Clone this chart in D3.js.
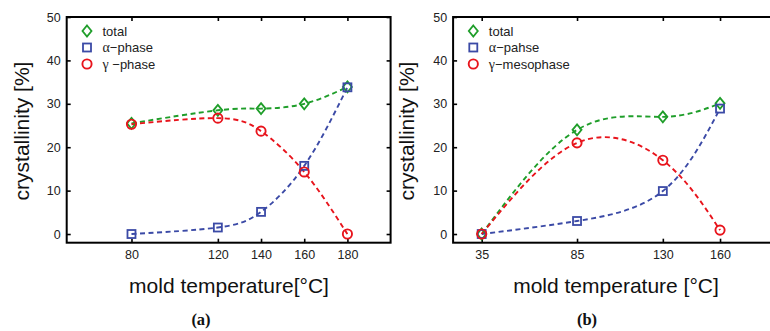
<!DOCTYPE html>
<html><head><meta charset="utf-8">
<script src="https://cdn.jsdelivr.net/npm/d3@7"></script>
<style>body{margin:0;background:#fff}svg{display:block}</style>
</head><body>
<script>
// ---- data ----
const tempsA = [80, 120, 140, 160, 180];
const totalA = [25.5, 28.5, 28.9, 30.0, 33.9];
const alphaA = [0.0, 1.5, 5.1, 15.7, 33.8];
const gammaA = [25.3, 26.7, 23.7, 14.3, 0.0];

const tempsB = [35, 85, 130, 160];
const totalB = [0.0, 24.0, 27.0, 30.1];
const alphaB = [0.0, 3.0, 9.9, 28.9];
const gammaB = [0.0, 21.0, 17.0, 0.9];

const yTicks = [0, 10, 20, 30, 40, 50];
const legendA = ["total", "α−phase", "γ −phase"];
const legendB = ["total", "α−pahse", "γ−mesophase"];
const xTitleA = "mold temperature[°C]";
const xTitleB = "mold temperature [°C]";
const yTitle = "crystallinity [%]";
const captions = ["(a)", "(b)"];

const colors = {total: "#1f9e2a", alpha: "#3b4aa6", gamma: "#e8141c"};

const W = 770, H = 331;
const svg = d3.select("body").append("svg").attr("width", W).attr("height", H)
  .style("font-family", "'Liberation Sans', Arial, sans-serif");

function marker(g, kind, x, y) {
  if (kind === "total") {
    g.append("path").attr("d", `M${x},${y-5.5}L${x+4.5},${y}L${x},${y+5.5}L${x-4.5},${y}Z`)
      .attr("fill", "none").attr("stroke", colors.total).attr("stroke-width", 1.8);
  } else if (kind === "alpha") {
    g.append("rect").attr("x", x-4).attr("y", y-4).attr("width", 8).attr("height", 8)
      .attr("fill", "none").attr("stroke", colors.alpha).attr("stroke-width", 1.8);
  } else {
    g.append("circle").attr("cx", x).attr("cy", y).attr("r", 4.6)
      .attr("fill", "none").attr("stroke", colors.gamma).attr("stroke-width", 1.9);
  }
}

function panel(cfg) {
  const x = d3.scaleLinear().domain(cfg.xDomain).range(cfg.xRange);
  const y = d3.scaleLinear().domain([-2, 50]).range([242.7, 17]);
  const x0 = cfg.xRange[0], x1 = cfg.xRange[1], y0 = 242.7, y1 = 17;
  const g = svg.append("g");
  const clipId = "clip" + cfg.id;
  svg.append("clipPath").attr("id", clipId).append("rect")
    .attr("x", x0).attr("y", y1).attr("width", x1 - x0).attr("height", y0 - y1);

  // axes (ticks inward)
  const axB = d3.axisBottom(x).tickValues(cfg.temps).tickSize(-4).tickPadding(7).tickFormat(d3.format("d"));
  const axT = d3.axisTop(x).tickValues(cfg.temps).tickSize(-4).tickFormat("");
  const axL = d3.axisLeft(y).tickValues(yTicks).tickSize(-4).tickPadding(6);
  const axR = d3.axisRight(y).tickValues(yTicks).tickSize(-4).tickFormat("");
  const style = sel => {
    sel.select(".domain").remove();
    sel.selectAll(".tick line").attr("stroke", "#000").attr("stroke-width", 1.6);
    sel.selectAll("text").attr("fill", "#222").style("font-size", "12.5px")
      .style("font-family", "'Liberation Sans', Arial, sans-serif");
  };
  g.append("g").attr("transform", `translate(0,${y0})`).call(axB).call(style);
  g.append("g").attr("transform", `translate(0,${y1})`).call(axT).call(style);
  g.append("g").attr("transform", `translate(${x0},0)`).call(axL).call(style);
  if (x1 <= W) g.append("g").attr("transform", `translate(${x1},0)`).call(axR).call(style);
  g.append("rect").attr("x", x0).attr("y", y1).attr("width", x1 - x0).attr("height", y0 - y1)
    .attr("fill", "none").attr("stroke", "#000").attr("stroke-width", 2);

  // series
  const series = [["total", cfg.total], ["alpha", cfg.alpha], ["gamma", cfg.gamma]];
  const line = d3.line().x(d => x(d[0])).y(d => y(d[1])).curve(d3.curveNatural);
  const plot = g.append("g").attr("clip-path", `url(#${clipId})`);
  series.forEach(([k, vals]) => {
    const pts = cfg.temps.map((t, i) => [t, vals[i]]);
    plot.append("path").attr("d", line(pts)).attr("fill", "none")
      .attr("stroke", colors[k]).attr("stroke-width", 1.9).attr("stroke-dasharray", "5,3.5");
  });
  series.forEach(([k, vals]) => {
    cfg.temps.forEach((t, i) => marker(plot, k, x(t), y(vals[i])));
  });

  // legend
  const keys = ["total", "alpha", "gamma"];
  keys.forEach((k, i) => {
    const ly = 31 + i * 16.5;
    marker(g, k, cfg.legendX, ly);
    const label = cfg.legend[i];
    const t = g.append("text").attr("x", cfg.legendX + 15.5).attr("y", ly + 4.6)
      .attr("fill", "#222").style("font-size", "13px");
    const first = label[0];
    if (first === "α" || first === "γ") {
      t.append("tspan").text(first).style("font-family", "'Liberation Serif', 'Times New Roman', serif").style("font-size", "14px");
      t.append("tspan").text(label.slice(1));
    } else t.text(label);
  });

  // titles
  g.append("text").attr("x", cfg.xTitleX).attr("y", 293).attr("text-anchor", "middle")
    .attr("fill", "#111").style("font-size", "21px").text(cfg.xTitle);
  g.append("text").attr("transform", `translate(${cfg.yTitleX},131) rotate(-90)`)
    .attr("text-anchor", "middle").attr("fill", "#111").style("font-size", "21px").text(yTitle);
  g.append("text").attr("x", cfg.capX).attr("y", 325).attr("text-anchor", "middle")
    .attr("fill", "#111").style("font-family", "'Liberation Serif', 'Times New Roman', serif")
    .style("font-weight", "bold").style("font-size", "16.5px").text(cfg.caption);
}

panel({id: "a", xDomain: [50, 200], xRange: [66.7, 390.6], temps: tempsA,
  total: totalA, alpha: alphaA, gamma: gammaA, legend: legendA, legendX: 87,
  xTitle: xTitleA, xTitleX: 229, yTitleX: 28.5, capX: 201, caption: captions[0]});
panel({id: "b", xDomain: [20, 200], xRange: [453.1, 796.3], temps: tempsB,
  total: totalB, alpha: alphaB, gamma: gammaB, legend: legendB, legendX: 473.3,
  xTitle: xTitleB, xTitleX: 616, yTitleX: 413.5, capX: 587, caption: captions[1]});
</script>
</body></html>
